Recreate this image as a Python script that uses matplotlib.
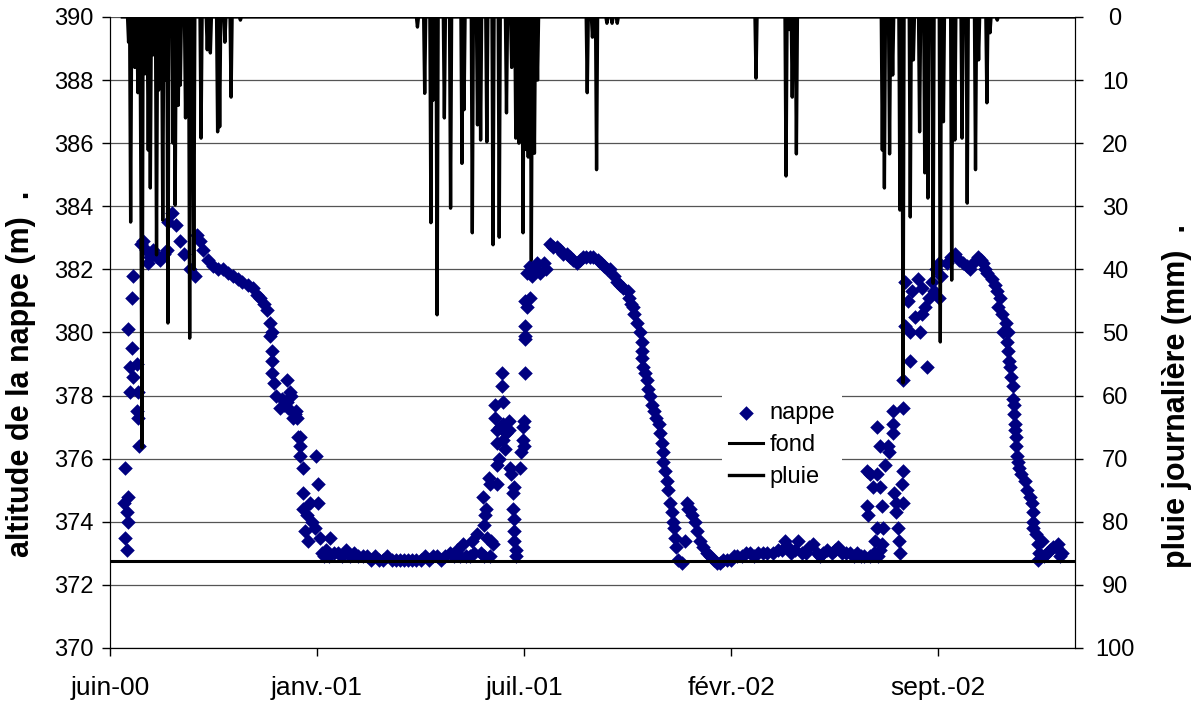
import numpy as np
import matplotlib.pyplot as plt

plt.rcParams['font.family'] = ['Liberation Sans', 'DejaVu Sans']

# day 0 of the x axis (first tick "juin-00"), ticks every 200 days
start = np.datetime64('2000-06-24')
tick_day = [0, 200, 400, 600, 800]
tick_lab = ['juin-00', 'janv.-01', 'juil.-01', 'févr.-02', 'sept.-02']

# groundwater level (m): day since start, altitude
nappe_day = [
    16, 15, 17, 16, 14, 17, 15,
    17, 21, 22, 21, 19, 22, 19, 26, 26, 27, 27, 28,
    30, 32, 35, 37, 39, 42, 44, 45, 48, 52, 55,
    56, 60, 64, 68, 72, 77, 82,
    84, 87, 90, 95, 100, 104, 109, 114, 119, 124, 128, 133, 138, 142, 145, 149, 152, 155, 157,
    155, 157, 157, 157, 158, 160, 164, 166, 168, 171, 171, 172, 174, 175, 177, 179, 180, 181,
    182, 184, 184, 184, 186, 186, 186, 188, 190, 191, 193, 195, 198, 199, 201, 201, 203, 207, 213,
    205, 209, 212, 216, 220, 224, 228, 232, 236, 240, 244, 248, 252, 256, 260, 264, 268, 272,
    276, 280, 284, 288, 292, 296, 300, 304, 308, 312, 316, 320, 324, 328, 332, 335, 338, 341,
    344, 348, 350, 352, 355,
    358, 360, 361, 361, 362, 363, 364, 366, 367, 367, 368, 370, 372, 372, 374, 374, 374, 374,
    376, 377, 379, 379, 380, 380, 380, 382, 383, 385, 385, 386, 387, 389, 389, 390, 390, 390,
    390, 392, 392, 396, 397, 399, 399, 400, 400, 401, 401,
    401, 401, 403, 406, 401, 403, 406, 408, 410, 412, 415, 419, 421,
    425, 428, 432, 435, 438, 441, 444, 447, 451, 454, 457, 460, 464, 467, 471, 474, 477, 480,
    483, 487, 490, 493, 496, 500, 501, 503, 505, 506, 509, 512, 514, 514, 514, 515, 517, 519,
    520, 522, 524, 525, 527, 530, 531, 533, 534, 534, 536, 538, 539, 541, 543, 544, 545, 546,
    547, 549,
    553, 555, 557, 558, 560, 562, 565, 567, 570, 573, 577, 580, 583, 586, 589, 592, 596, 600,
    603, 606, 610, 614, 618, 622, 626, 631, 635, 640, 645, 649, 652, 655, 658, 662, 665, 668,
    672, 675, 679, 683, 686, 689, 693, 697, 700, 703, 707, 711, 715, 719, 722,
    725, 728, 731, 731, 732, 734, 734, 737, 738, 739, 741, 741, 741, 742, 744, 744, 744, 746,
    746, 747, 749, 751, 752, 756, 756, 756, 757, 759, 759, 761, 762, 763, 765, 766, 766, 766,
    766, 773, 789, 773, 782,
    768, 771, 768, 775, 778, 780, 784, 784, 787, 791, 794, 796, 798, 801, 801, 803, 808, 812,
    816, 820, 824, 828, 831, 834, 838, 841, 843, 845, 847, 852, 855, 857, 858, 860, 862, 865, 867,
    863, 866, 867, 868, 869, 870, 872, 872, 873, 873, 874, 874, 875, 875, 876, 877, 878, 880,
    884, 886, 889, 891, 892, 892, 892, 894, 896, 896, 897, 900, 902, 905, 908, 911, 914, 916,
    918, 920,
]
nappe_alt = [
    373.1, 373.5, 374.0, 374.3, 374.6, 374.8, 375.7,
    380.1, 381.1, 381.8, 379.5, 378.9, 378.6, 378.1, 379.0, 377.5, 377.3, 378.1, 376.4,
    382.8, 382.9, 382.6, 382.2, 382.4, 382.6, 382.5, 382.4, 382.3, 382.5, 382.6,
    383.5, 383.8, 383.4, 382.9, 382.5, 382.0, 381.8,
    383.1, 382.9, 382.6, 382.3, 382.1, 382.0, 382.0, 381.9, 381.8, 381.7, 381.6, 381.5, 381.4,
    381.2, 381.1, 380.9, 380.7, 380.3, 380.0,
    379.9, 379.4, 379.1, 378.7, 378.4, 378.0, 377.6, 377.9, 377.7, 378.5, 377.8, 377.6, 378.1,
    378.0, 377.3, 377.4, 377.5, 377.3,
    376.7, 376.7, 376.4, 376.1, 375.7, 374.9, 374.4, 373.7, 374.2, 373.4, 374.6, 374.0, 373.8,
    376.1, 375.2, 374.6, 373.5, 372.9, 373.5,
    373.0, 373.1, 372.9, 373.0, 373.0, 372.9, 373.1, 372.9, 373.0, 372.9, 372.9, 372.9, 372.8,
    372.9, 372.8, 372.8, 372.9, 372.8,
    372.8, 372.8, 372.8, 372.8, 372.8, 372.8, 372.8, 372.9, 372.8, 372.9, 372.9, 372.8, 372.9,
    373.0, 372.9, 373.1, 372.9, 373.3,
    372.9, 372.9, 373.4, 373.0, 373.6,
    373.0, 374.8, 373.9, 372.9, 374.2, 374.4, 373.5, 375.4, 375.2, 372.9, 373.4, 373.3, 377.7,
    377.3, 375.8, 375.2, 376.9, 376.5,
    376.0, 377.0, 378.7, 378.3, 377.8, 377.1, 376.6, 376.3, 376.8, 377.2, 376.9, 375.7, 375.5,
    374.9, 374.4, 375.1, 374.1, 373.7,
    373.4, 373.1, 372.9, 375.7, 376.2, 376.6, 377.0, 377.2, 376.4, 378.7, 379.8,
    379.9, 380.2, 380.8, 381.1, 381.0, 381.9, 382.1, 381.8, 382.0, 382.2, 381.9, 382.2, 382.0,
    382.8, 382.7, 382.7, 382.6, 382.5, 382.5, 382.4, 382.3, 382.2, 382.3, 382.4, 382.4, 382.4,
    382.4, 382.3, 382.2, 382.1, 382.0,
    382.0, 381.8, 381.6, 381.5, 381.4, 381.3, 381.1, 380.9, 380.8, 380.6, 380.3, 380.0, 379.7,
    379.4, 379.2, 378.9, 378.7, 378.5,
    378.2, 378.0, 377.7, 377.5, 377.3, 377.1, 376.8, 376.5, 376.2, 375.9, 375.6, 375.3, 375.0,
    374.6, 374.3, 374.0, 373.8, 373.5,
    373.2, 372.8,
    372.7, 373.4, 374.6, 374.4, 374.4, 374.2, 374.0, 373.7, 373.4, 373.2, 373.0, 372.9, 372.8,
    372.7, 372.7, 372.8, 372.8, 372.8,
    372.9, 372.9, 372.9, 373.0, 373.0, 372.9, 373.0, 373.0, 373.0, 373.0, 373.1, 373.1, 373.4,
    373.2, 373.0, 373.1, 373.4, 373.0,
    373.0, 373.2, 373.3, 373.0, 372.9, 373.0, 373.1, 373.0, 373.1, 373.2, 373.0, 373.0, 373.0,
    372.9, 373.0,
    372.9, 372.9, 375.6, 374.5, 374.2, 372.9, 375.5, 375.1, 373.0, 373.4, 373.8, 375.5, 377.0,
    372.9, 373.1, 375.1, 376.4, 373.3,
    374.5, 373.8, 375.8, 376.4, 376.2, 376.8, 377.1, 377.5, 374.9, 374.6, 374.3, 373.8, 373.4,
    373.0, 375.2, 375.6, 374.6, 377.6,
    378.5, 379.1, 378.9, 380.0, 380.0,
    381.6, 381.0, 380.2, 381.3, 380.5, 381.7, 381.4, 380.6, 380.8, 381.1, 381.6, 381.3, 382.0,
    381.1, 382.2, 381.8, 382.2, 382.4,
    382.5, 382.3, 382.2, 382.1, 382.0, 382.2, 382.4, 382.3, 382.2, 382.0, 381.9, 381.7, 381.5,
    381.3, 380.8, 381.1, 380.6, 380.3, 380.0,
    380.0, 379.7, 379.4, 379.1, 378.9, 378.6, 378.3, 377.9, 377.7, 377.4, 377.1, 376.9, 376.7,
    376.4, 376.1, 375.9, 375.7, 375.5,
    375.3, 375.0, 374.8, 374.6, 374.3, 374.0, 373.8, 373.6, 373.3, 372.8, 373.0, 373.4, 372.9,
    373.0, 373.1, 373.2, 373.2, 373.3,
    372.9, 373.0,
]

fond_alt = 372.75

# daily rain (mm): rainy days only, every other day of the record is 0
pluie_day = [
    18, 20, 22, 24, 27, 30, 31, 34, 37, 39, 42, 45, 47, 49, 51, 53, 56, 58, 61, 63, 66, 68,
    73, 77, 79, 81, 88, 94, 97, 104, 106, 111, 117, 126,
    297, 304, 310, 312, 316, 323, 329, 340, 342, 350, 355, 358, 364, 370, 376, 383, 388,
    392, 395, 399, 402, 404, 407, 410, 413, 461, 466, 470, 480, 485, 490,
    624, 653, 656, 659, 663,
    746, 748, 753, 756, 763, 766, 773, 776, 782, 787, 790, 795, 802, 805, 813, 816, 823,
    828, 836, 839, 847, 850, 857,
]
pluie_mm = [
    4, 32.5, 6, 8, 12, 30, 68.3, 9, 21.1, 27.1, 6, 37.7, 11.6, 7, 32.2, 10, 48.5, 3, 20,
    29.8, 14, 10.8, 16.0, 50.9, 6, 40.0, 19.2, 5.2, 5.7, 18.2, 17.4, 4.0, 12.7, 0.5,
    1.6, 12.1, 32.6, 13.2, 47.2, 16.0, 30.3, 23.2, 14.7, 34.2, 17.1, 19.5, 19.8, 36.1,
    34.9, 15.2, 8.0, 19.2, 20.0, 34.2, 21.0, 22.2, 38.5, 21.6, 10.0, 12.0, 3.2, 24.2,
    1.0, 1.0, 1.0,
    9.7, 25.2, 2.0, 12.7, 21.7,
    21.1, 27.1, 21.7, 9.2, 30.6, 58.0, 31.7, 6.8, 18.2, 24.7, 28.7, 42.2, 51.5, 16.6,
    41.7, 19.5, 19.2, 29.5, 24.2, 6.8, 13.6, 2.5, 0.5,
]
pluie_debut, pluie_fin = 12, 932

# full daily rain record
pluie_jours = np.arange(pluie_debut, pluie_fin + 1)
pluie = np.zeros(len(pluie_jours))
for d, mm in zip(pluie_day, pluie_mm):
    pluie[d - pluie_debut] = mm

fig = plt.figure(figsize=(11.95, 7.07), dpi=100)
ax = fig.add_axes([0.092, 0.0835, 0.8075, 0.8925])

ax.grid(axis='y', color='#555555', lw=0.9)
ax.set_axisbelow(True)
sc = ax.scatter(start + np.array(nappe_day), nappe_alt, marker='D', s=55,
                color='#000080', linewidths=0, zorder=3, label='nappe')
fl = ax.axhline(fond_alt, color='black', lw=2.2, zorder=4, label='fond')

ax2 = ax.twinx()
pl, = ax2.plot(start + pluie_jours, pluie, color='black', lw=2.4, label='pluie')

ax.set_xlim(start, start + 932)
ax.set_ylim(370, 390)
ax.set_yticks(np.arange(370, 391, 2))
ax2.set_ylim(100, 0)
ax2.set_yticks(np.arange(0, 101, 10))

ax.set_xticks([start + d for d in tick_day])
ax.set_xticklabels(tick_lab)

for a in (ax, ax2):
    a.spines['top'].set_visible(False)
ax.tick_params(axis='y', direction='out', length=6, width=1, labelsize=17, pad=6)
ax.tick_params(axis='x', direction='out', length=6, width=1, labelsize=19, pad=14)
ax2.tick_params(axis='y', direction='out', length=6, width=1, labelsize=17, pad=23)
for t in ax2.get_yticklabels():
    t.set_horizontalalignment('center')

ax.set_ylabel('altitude de la nappe (m)  .', fontsize=22, fontweight='bold')
ax.yaxis.set_label_coords(-0.077, 0.435)
ax2.set_ylabel('pluie journalière (mm)  .', fontsize=22, fontweight='bold')
ax2.yaxis.set_label_coords(1.09, 0.40)

leg = ax2.legend([sc, fl, pl], ['nappe', 'fond', 'pluie'], loc='upper left',
                 bbox_to_anchor=(722 / 1195, 1 - 395 / 707), bbox_transform=fig.transFigure,
                 frameon=True, fancybox=False, edgecolor='none', facecolor='white',
                 framealpha=1, fontsize=17, scatterpoints=1, handlelength=1.45,
                 handletextpad=0.25, borderpad=0.3, labelspacing=0.42, borderaxespad=0)
leg.set_zorder(10)

fig.savefig('out.png', dpi=100)
